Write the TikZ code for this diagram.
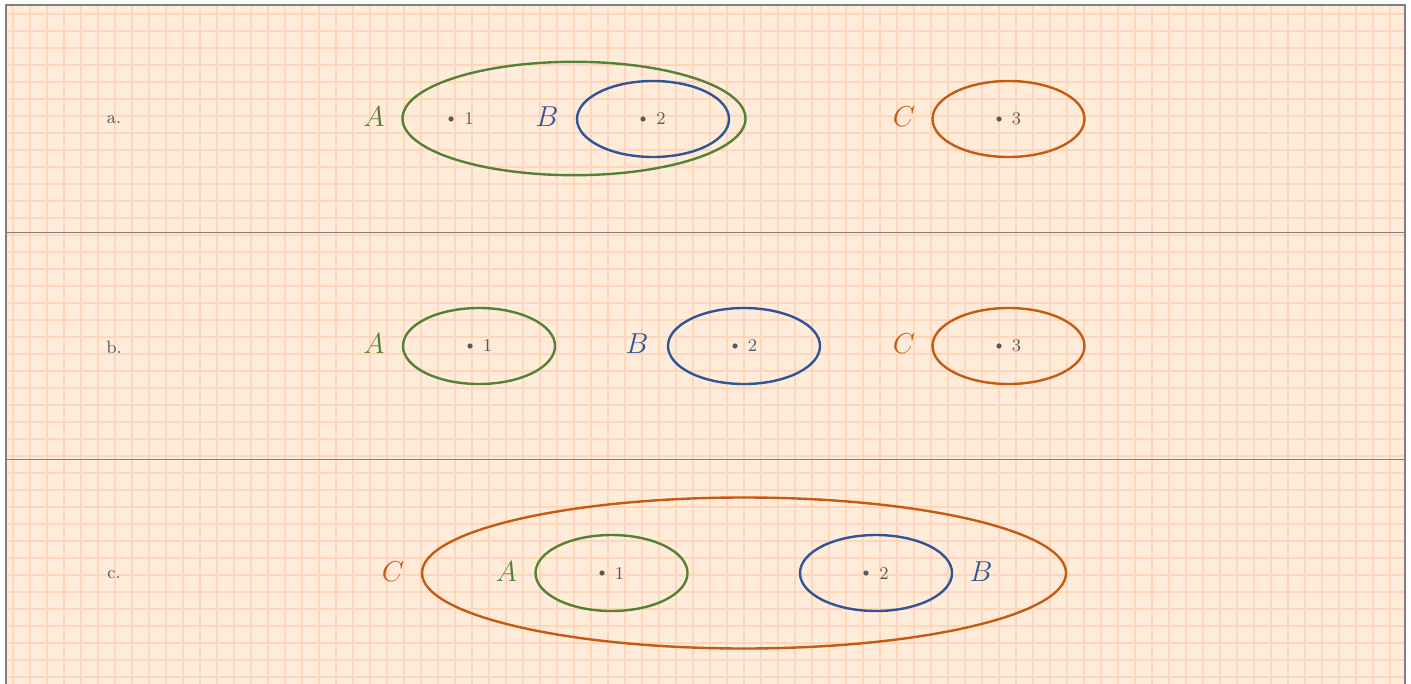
\documentclass[tikz,border=0pt]{standalone}
\usetikzlibrary{shapes.geometric}
\definecolor{bgfill}{RGB}{255,235,218}
\definecolor{gridc}{RGB}{255,214,186}
\definecolor{frame}{RGB}{128,128,128}
\definecolor{setgreen}{RGB}{84,130,53}
\definecolor{setblue}{RGB}{47,85,151}
\definecolor{setorange}{RGB}{197,90,17}
\definecolor{txt}{RGB}{89,89,89}
\tikzset{
  setell/.style={ellipse, draw, line width=1.2pt, inner sep=0pt, minimum width=76pt, minimum height=38pt},
  gsetell/.style={setell, draw=setgreen},
  bsetell/.style={setell, draw=setblue},
  osetell/.style={setell, draw=setorange},
  setname/.style={inner sep=0pt, font=\fontsize{14}{16}\selectfont},
  elemdot/.style={circle, fill=txt, inner sep=0pt, minimum size=2.6pt},
  elemlabel/.style={inner sep=0pt, text=txt, font=\fontsize{9}{11}\selectfont},
  rowlabel/.style={inner sep=0pt, text=txt, font=\fontsize{9}{11}\selectfont},
  gridline/.style={draw=gridc, line width=0.9pt},
  sepline/.style={draw=frame, line width=0.5pt}
}
\begin{document}
\begin{tikzpicture}[x=0.5pt, y=-0.5pt]
\useasboundingbox (0,0) rectangle (1411,684);
% background and grid
\fill[bgfill] (6,5) rectangle (1405,684);
\begin{scope}
\clip (6,5) rectangle (1405,684);
\foreach \k in {0,...,81} { \draw[gridline] (13+17*\k,5) -- (13+17*\k,684); }
\foreach \k in {0,...,39} { \draw[gridline] (6,14+17*\k) -- (1405,14+17*\k); }
\end{scope}
\draw[sepline] (6,232) -- (1405,232);
\draw[sepline] (6,459) -- (1405,459);
\draw[frame, line width=1.2pt] (6,690) -- (6,5) -- (1405,5) -- (1405,690);

% row a
\node[rowlabel] (la) at (114,120) {a.};
\node[setname, text=setgreen] (Aa) at (374,117) {$A$};
\node[gsetell, minimum width=171.5pt, minimum height=56.7pt] (Ea) at (574,118.5) {};
\node[elemdot] (d1a) at (451,119) {};
\node[elemlabel] (n1a) at (469,119) {1};
\node[setname, text=setblue] (Ba) at (547,117) {$B$};
\node[bsetell] (EBa) at (653,119) {};
\node[elemdot] (d2a) at (643,119) {};
\node[elemlabel] (n2a) at (661,119) {2};
\node[setname, text=setorange] (Ca) at (904,117) {$C$};
\node[osetell] (ECa) at (1008.5,119) {};
\node[elemdot] (d3a) at (999,119) {};
\node[elemlabel] (n3a) at (1016.5,119) {3};

% row b
\node[rowlabel] (lb) at (114,347) {b.};
\node[setname, text=setgreen] (Ab) at (374,344) {$A$};
\node[gsetell] (EAb) at (479,346) {};
\node[elemdot] (d1b) at (470,346) {};
\node[elemlabel] (n1b) at (487.5,346) {1};
\node[setname, text=setblue] (Bb) at (637,344) {$B$};
\node[bsetell] (EBb) at (744,346) {};
\node[elemdot] (d2b) at (735,346) {};
\node[elemlabel] (n2b) at (752.5,346) {2};
\node[setname, text=setorange] (Cb) at (904,344) {$C$};
\node[osetell] (ECb) at (1008.5,346) {};
\node[elemdot] (d3b) at (999,346) {};
\node[elemlabel] (n3b) at (1016.5,346) {3};

% row c
\node[rowlabel] (lc) at (114,575) {c.};
\node[setname, text=setorange] (Cc) at (393,572) {$C$};
\node[osetell, minimum width=322pt, minimum height=75.5pt] (ECc) at (744,573) {};
\node[setname, text=setgreen] (Ac) at (506.5,572) {$A$};
\node[gsetell] (EAc) at (611.5,573) {};
\node[elemdot] (d1c) at (602,573) {};
\node[elemlabel] (n1c) at (619.5,573) {1};
\node[bsetell] (EBc) at (876,573) {};
\node[elemdot] (d2c) at (866,573) {};
\node[elemlabel] (n2c) at (884,573) {2};
\node[setname, text=setblue] (Bc) at (981,572) {$B$};
\end{tikzpicture}
\end{document}
